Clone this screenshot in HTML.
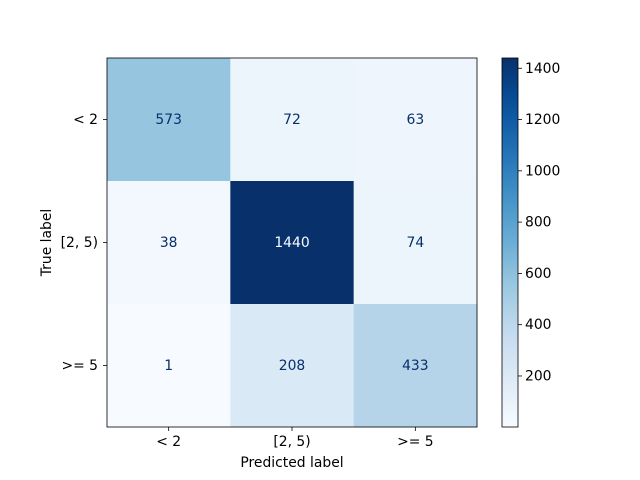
<!DOCTYPE html>
<html><head><meta charset="utf-8"><style>
body{margin:0;background:#fff;}
svg{display:block;font-family:"DejaVu Sans","Liberation Sans",sans-serif;}
</style></head><body>
<svg id="chart" width="640" height="480" viewBox="0 0 640 480"></svg>
<script>
const trueLabels = ["< 2", "[2, 5)", ">= 5"];
const predLabels = ["< 2", "[2, 5)", ">= 5"];
const row0 = [573, 72, 63];
const row1 = [38, 1440, 74];
const row2 = [1, 208, 433];
const cbTicks = [200, 400, 600, 800, 1000, 1200, 1400];

const matrix = [row0, row1, row2];
const svg = document.getElementById('chart');
const NS = 'http://www.w3.org/2000/svg';
const FS = 13.9;
function mk(t, a, parent){const e=document.createElementNS(NS,t);for(const k in a)e.setAttribute(k,a[k]);(parent||svg).appendChild(e);return e;}
const stops=[[247,251,255],[222,235,247],[198,219,239],[158,202,225],[107,174,214],[66,146,198],[33,113,181],[8,81,156],[8,48,107]];
function blues(t){t=Math.max(0,Math.min(1,t));const p=t*8,i=Math.min(7,Math.floor(p)),f=p-i;const a=stops[i],b=stops[i+1];return 'rgb('+a.map((v,k)=>Math.round(v+(b[k]-v)*f)).join(',')+')';}
const all=matrix.flat();const vmin=Math.min(...all),vmax=Math.max(...all);
const X0=107,Y0=58,W=370,H=369,n=3,cw=W/n,ch=H/n;
const xCell=j=>X0+j*cw, yCell=i=>Y0+i*ch;
const thresh=(vmax+vmin)/2;
for(let i=0;i<n;i++)for(let j=0;j<n;j++){
  const v=matrix[i][j];const t=(v-vmin)/(vmax-vmin);
  const r=mk('rect',{x:xCell(j),y:yCell(i),width:cw+0.5,height:ch+0.5,fill:blues(t)});
  
  
  const tx=mk('text',{x:xCell(j)+cw/2,y:yCell(i)+ch/2+4.5,'text-anchor':'middle','font-size':FS,fill:v>=thresh?blues(0):blues(1)});
  tx.textContent=v;
  
  
}
mk('rect',{x:X0,y:Y0,width:W,height:H,fill:'none',stroke:'#000','stroke-width':0.8});
for(let j=0;j<n;j++){
  const cx=xCell(j)+cw/2;
  mk('line',{x1:cx,x2:cx,y1:Y0+H,y2:Y0+H+4,stroke:'#000','stroke-width':0.8});
  const t=mk('text',{x:cx,y:Y0+H+19,'text-anchor':'middle','font-size':FS});
  t.textContent=predLabels[j];
  
  
}
for(let i=0;i<n;i++){
  const cy=yCell(i)+ch/2;
  mk('line',{x1:X0-4,x2:X0,y1:cy,y2:cy,stroke:'#000','stroke-width':0.8});
  const t=mk('text',{x:X0-9,y:cy+4.5,'text-anchor':'end','font-size':FS});
  t.textContent=trueLabels[i];
  
  
}
const xt=mk('text',{x:X0+W/2,y:467,'text-anchor':'middle','font-size':FS});
xt.textContent='Predicted label';


const yt=mk('text',{x:51,y:Y0+H/2,'text-anchor':'middle','font-size':FS,transform:'rotate(-90 51 '+(Y0+H/2)+')'});
yt.textContent='True label';


// colorbar
const CX=502,CW=16;
const defs=mk('defs',{});
const g=mk('linearGradient',{id:'cb',x1:0,y1:1,x2:0,y2:0},defs);
for(let k=0;k<=20;k++)mk('stop',{offset:k/20,'stop-color':blues(k/20)},g);
const cb=mk('rect',{x:CX,y:Y0,width:CW,height:H,fill:'url(#cb)',stroke:'#000','stroke-width':0.8});


const cy=v=>Y0+H-(v-vmin)/(vmax-vmin)*H;
cbTicks.forEach(v=>{
  mk('line',{x1:CX+CW,x2:CX+CW+4,y1:cy(v),y2:cy(v),stroke:'#000','stroke-width':0.8});
  const t=mk('text',{x:CX+CW+7,y:cy(v)+4.5,'font-size':FS});
  t.textContent=v;
  
  
});
</script>
</body></html>
